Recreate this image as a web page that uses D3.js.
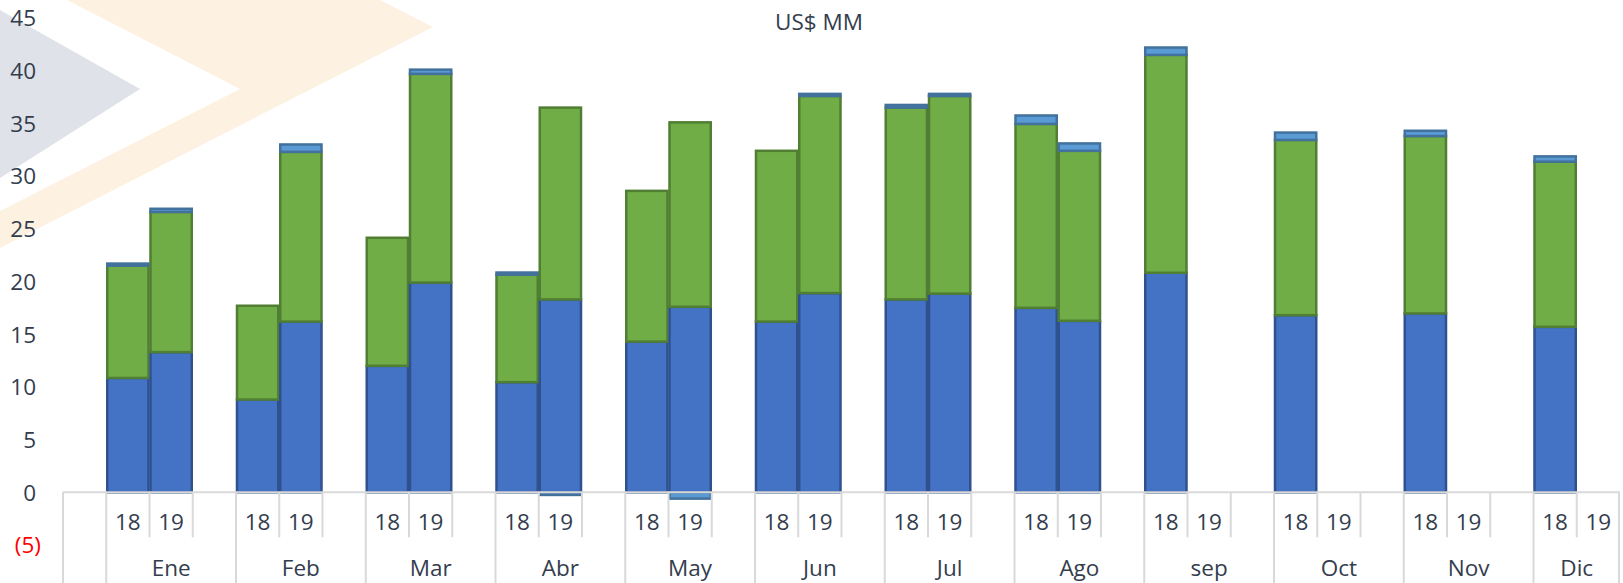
<!DOCTYPE html>
<html>
<head>
<meta charset="utf-8">
<script src="https://cdn.jsdelivr.net/npm/d3@7"></script>
<style>
  html, body { margin: 0; padding: 0; background: #ffffff; }
  svg { display: block; }
  text { font-family: "Open Sans", "Noto Sans", sans-serif; }
</style>
</head>
<body>
<svg id="chart" width="1623" height="583"></svg>
<script>
// ---- data ----
const months = ["Ene", "Feb", "Mar", "Abr", "May", "Jun", "Jul", "Ago", "sep", "Oct", "Nov", "Dic"];
const years = ["18", "19"];
// values per month: [18, 19]  (null = no data)
const serieBase   = [[10.85, 13.3], [8.8, 16.2], [12.0, 19.9], [10.45, 18.3], [14.3, 17.6], [16.2, 18.9],
                     [18.3, 18.85], [17.5, 16.27], [20.83, null], [16.8, null], [16.97, null], [15.7, null]];
const serieMedia  = [[10.65, 13.3], [8.9, 16.1], [12.15, 19.8], [10.2, 18.2], [14.3, 17.5], [16.2, 18.7],
                     [18.2, 18.75], [17.45, 16.13], [20.67, null], [16.63, null], [16.83, null], [15.67, null]];
const serieTope   = [[0.2, 0.3], [0, 0.7], [0, 0.4], [0.2, -0.25], [0, -0.6], [0, 0.2],
                     [0.25, 0.2], [0.8, 0.7], [0.7, null], [0.7, null], [0.5, null], [0.5, null]];
const yTicks = [-5, 0, 5, 10, 15, 20, 25, 30, 35, 40, 45];
const title = "US$ MM";

// ---- layout ----
const svg = d3.select("#chart");
const W = 1623, H = 583;
const textColor = "#333d4e";
const fs = 22.5;

// background watermark shapes
svg.append("polygon")
  .attr("points", [[0,10],[140,89],[0,178]].map(p => p.join(",")).join(" "))
  .attr("fill", "#dfe2e8");
svg.append("polygon")
  .attr("points", [[67,0],[380,0],[433,27],[0,248],[0,211],[240,89]].map(p => p.join(",")).join(" "))
  .attr("fill", "#fdf1e2");

// build slot list: leading blank, then each month: 18, 19, blank (Dic without trailing blank)
const slots = [{group: -1, year: null}];
months.forEach((m, i) => {
  years.forEach((y, j) => slots.push({group: i, year: j}));
  if (i < months.length - 1) slots.push({group: i, year: null, blank: true});
});

const x = d3.scaleBand().domain(d3.range(slots.length)).range([63, 1620]).padding(0);
const y = d3.scaleLinear().domain([-5, 45]).range([545, 18]);

// title
svg.append("text")
  .attr("x", 819).attr("y", 22)
  .attr("dy", "0.35em")
  .attr("text-anchor", "middle")
  .attr("font-size", fs)
  .attr("fill", textColor)
  .text(title);

// y axis labels
const yAxis = d3.axisLeft(y).tickValues(yTicks).tickSize(0)
  .tickFormat(d => d < 0 ? "(" + Math.abs(d) + ")" : d);
const gy = svg.append("g").attr("transform", "translate(41,0)").call(yAxis);
gy.select(".domain").remove();
gy.selectAll("text")
  .attr("font-family", "'Open Sans', 'Noto Sans', sans-serif")
  .attr("font-size", fs)
  .attr("fill", d => d < 0 ? "#ff0000" : textColor)
  .attr("x", d => d < 0 ? 0 : -5)
  .attr("dy", "0.35em");

// bars
const seriesList = [
  {data: serieBase,  fill: "#4472c4", stroke: "#2f528f"},
  {data: serieMedia, fill: "#70ad47", stroke: "#507e32"},
  {data: serieTope,  fill: "#5b9bd5", stroke: "#41719c"}
];
const barRecords = [];
slots.forEach((s, idx) => {
  if (s.year === null) return;
  let posBase = 0, negBase = 0;
  seriesList.forEach((ser, k) => {
    const v = ser.data[s.group][s.year];
    if (v === null || v === 0) return;
    let y0, y1;
    if (v > 0) { y0 = posBase; y1 = posBase + v; posBase = y1; }
    else { y0 = negBase; y1 = negBase + v; negBase = y1; }
    barRecords.push({idx, y0, y1, k});
  });
});
svg.append("g").selectAll("rect").data(barRecords).join("rect")
  .attr("x", d => x(d.idx) + 1)
  .attr("width", x.bandwidth() - 2)
  .attr("y", d => y(Math.max(d.y0, d.y1)))
  .attr("height", d => Math.abs(y(d.y0) - y(d.y1)))
  .attr("fill", d => seriesList[d.k].fill)
  .attr("stroke", d => seriesList[d.k].stroke)
  .attr("stroke-width", 2.5);

// category axis
const axisY = y(0);
const gx = svg.append("g");
const lineColor = "#d9d9d9";
gx.append("line")
  .attr("x1", x.range()[0]).attr("x2", x.range()[1])
  .attr("y1", axisY).attr("y2", axisY)
  .attr("stroke", lineColor).attr("stroke-width", 2);

// boundaries
slots.forEach((s, idx) => {
  const xl = x(idx);
  const groupStart = idx === 0 || (s.year === 0);
  gx.append("line")
    .attr("x1", xl).attr("x2", xl)
    .attr("y1", axisY).attr("y2", groupStart ? H : axisY + 45)
    .attr("stroke", lineColor).attr("stroke-width", 2);
});
gx.append("line")
  .attr("x1", x.range()[1] - 1).attr("x2", x.range()[1] - 1)
  .attr("y1", axisY).attr("y2", H)
  .attr("stroke", lineColor).attr("stroke-width", 2);

// year labels
gx.selectAll("text.yr").data(slots.map((s, i) => ({s, i})).filter(d => d.s.year !== null))
  .join("text").attr("class", "yr")
  .attr("x", d => x(d.i) + x.bandwidth() / 2)
  .attr("y", axisY + 30)
  .attr("dy", "0.35em")
  .attr("text-anchor", "middle")
  .attr("font-size", fs)
  .attr("fill", textColor)
  .text(d => years[d.s.year]);

// month labels
const monthCenters = months.map((m, i) => {
  const idxs = slots.map((s, k) => ({s, k})).filter(d => d.s.group === i).map(d => d.k);
  const x0 = x(d3.min(idxs)), x1 = x(d3.max(idxs)) + x.bandwidth();
  return {m, c: (x0 + x1) / 2};
});
gx.selectAll("text.mo").data(monthCenters).join("text").attr("class", "mo")
  .attr("x", d => d.c)
  .attr("y", axisY + 76)
  .attr("dy", "0.35em")
  .attr("text-anchor", "middle")
  .attr("font-size", fs)
  .attr("fill", textColor)
  .text(d => d.m);
</script>
</body>
</html>
